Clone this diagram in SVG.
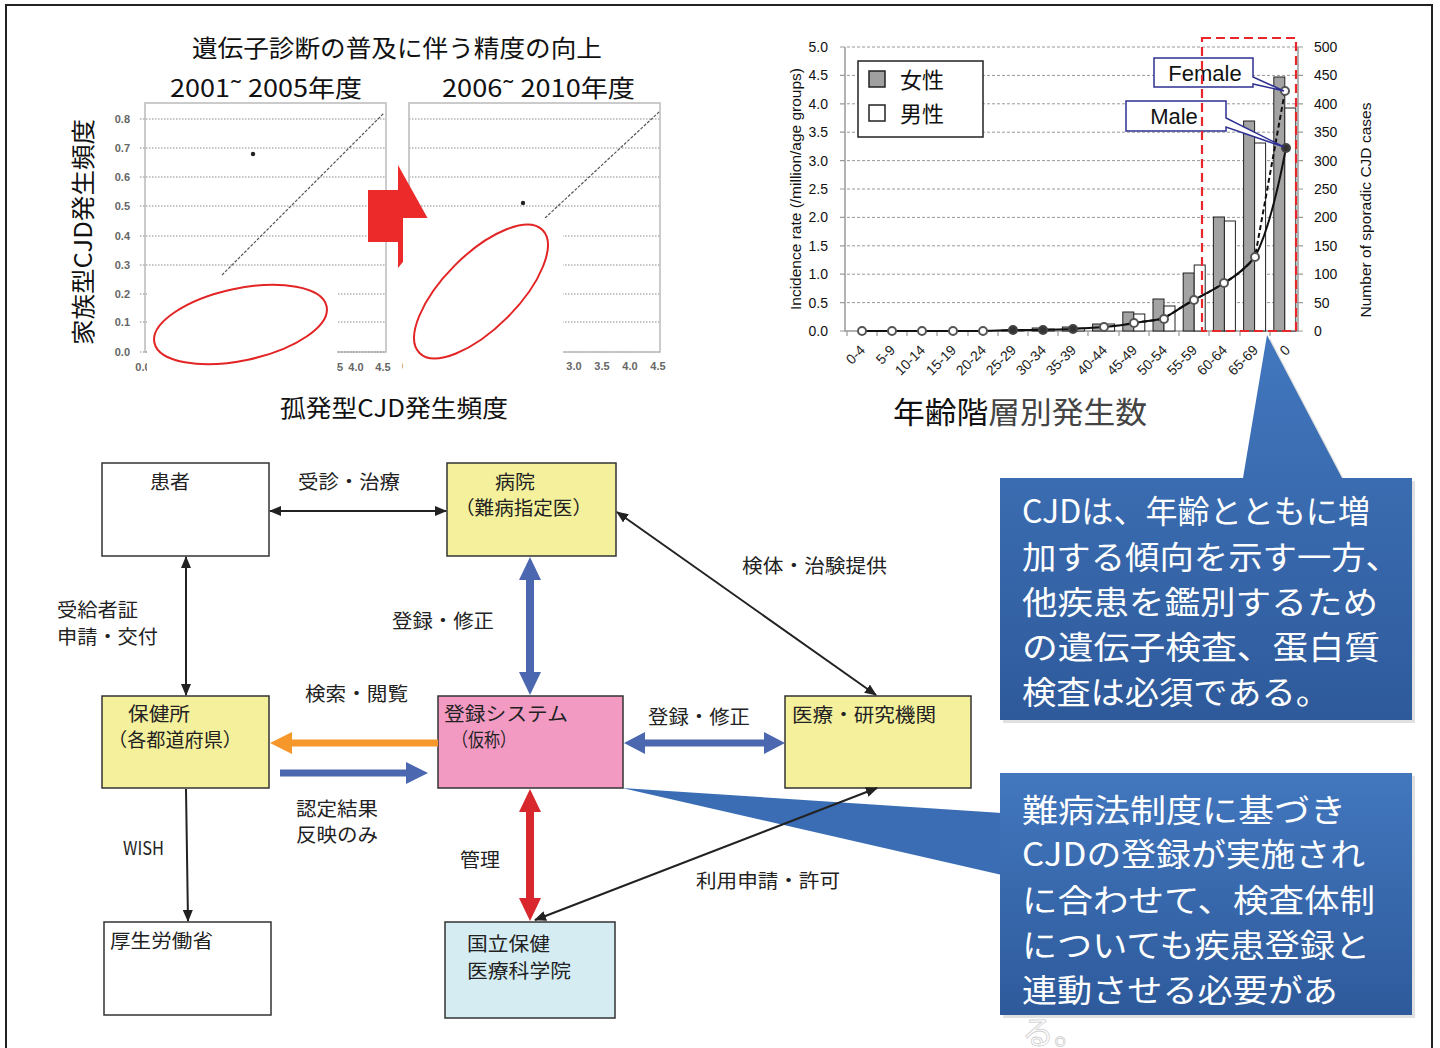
<svg xmlns="http://www.w3.org/2000/svg" width="1440" height="1048" viewBox="0 0 1440 1048">
<style>
.jp{font-family:"Noto Sans CJK JP","Noto Sans",sans-serif;fill:#111}
.lt{font-family:"Liberation Sans",Arial,sans-serif;fill:#111}
.dl{font-family:"Noto Sans CJK JP","Noto Sans",sans-serif;font-size:19px;fill:#222}
.node{stroke:#333;stroke-width:1.5}
.yel{fill:#f4f09c}
.grid{stroke:#8a8a8a;stroke-width:1.2;stroke-dasharray:1.5 1.5;fill:none}
.cgrid{stroke:#999;stroke-width:1;stroke-dasharray:3 2;fill:none}
.sy{font-family:"Liberation Sans",Arial,sans-serif;font-size:11px;font-weight:bold;fill:#666}
.ax{font-family:"Liberation Sans",Arial,sans-serif;font-size:14px;fill:#111}
.xl{font-family:"Liberation Sans",Arial,sans-serif;font-size:14px;fill:#222}
.fb{fill:#a3a3a3;stroke:#222;stroke-width:1}
.mb{fill:#fff;stroke:#222;stroke-width:1}
.mk{fill:#fff;stroke:#555;stroke-width:2}
.mkd{fill:#333;stroke:#444;stroke-width:2}
.ct{font-family:"Noto Sans CJK JP","Noto Sans",sans-serif;font-size:32px;fill:#fff}
.thin{stroke:#222;stroke-width:2;fill:none}
</style>
<defs>
<marker id="ah" viewBox="0 0 12 10" refX="11" refY="5" markerWidth="12" markerHeight="10" markerUnits="userSpaceOnUse" orient="auto-start-reverse">
<path d="M0,0 L12,5 L0,10 Z" fill="#222"/>
</marker>
<linearGradient id="bg" x1="0" y1="0" x2="0" y2="1">
<stop offset="0" stop-color="#4277be"/>
<stop offset="1" stop-color="#2e5a9b"/>
</linearGradient>
</defs>

<!-- page border -->
<rect x="6" y="5" width="1426" height="1070" fill="#fff" stroke="#222" stroke-width="2"/>

<!-- ===== Scatter plots ===== -->
<g id="scatter">
<text class="jp" x="397" y="57" font-size="24" text-anchor="middle" textLength="410" lengthAdjust="spacingAndGlyphs">遺伝子診断の普及に伴う精度の向上</text>
<text class="jp" x="170" y="97" font-size="24" textLength="192" lengthAdjust="spacingAndGlyphs">2001˜ 2005年度</text>
<text class="jp" x="442" y="97" font-size="24" textLength="193" lengthAdjust="spacingAndGlyphs">2006˜ 2010年度</text>
<text class="jp" transform="translate(92,232) rotate(-90)" font-size="24" text-anchor="middle" textLength="226" lengthAdjust="spacingAndGlyphs">家族型CJD発生頻度</text>
<text class="jp" x="394" y="417" font-size="24" text-anchor="middle" textLength="228" lengthAdjust="spacingAndGlyphs">孤発型CJD発生頻度</text>

<!-- left plot -->
<rect x="145" y="103" width="241" height="249" fill="#fff" stroke="#bbb" stroke-width="1.5"/>
<g class="grid">
<path d="M140,119H386M140,148H386M140,177H386M140,206H386M140,236H386M140,265H386M140,294H386M140,322H386M140,352H386"/>
<path d="M409,119H660M409,148H660M409,177H660M409,206H660M409,236H660M409,265H660M409,294H660M409,322H660M409,352H660"/>
</g>
<g>
<text class="sy" x="130" y="123" text-anchor="end">0.8</text>
<text class="sy" x="130" y="152" text-anchor="end">0.7</text>
<text class="sy" x="130" y="181" text-anchor="end">0.6</text>
<text class="sy" x="130" y="210" text-anchor="end">0.5</text>
<text class="sy" x="130" y="240" text-anchor="end">0.4</text>
<text class="sy" x="130" y="269" text-anchor="end">0.3</text>
<text class="sy" x="130" y="298" text-anchor="end">0.2</text>
<text class="sy" x="130" y="326" text-anchor="end">0.1</text>
<text class="sy" x="130" y="356" text-anchor="end">0.0</text>
</g>
<line x1="222" y1="275" x2="384" y2="113" stroke="#555" stroke-width="1.2" stroke-dasharray="3 1.5"/>
<circle cx="253" cy="154" r="2.2" fill="#222"/>
<text class="sy" x="143" y="371" text-anchor="middle">0.0</text>
<text class="sy" x="330" y="371" text-anchor="middle">3.5</text>
<text class="sy" x="356" y="371" text-anchor="middle">4.0</text>
<text class="sy" x="383" y="371" text-anchor="middle">4.5</text>

<!-- right plot -->
<rect x="409" y="103" width="251" height="249" fill="none" stroke="#bbb" stroke-width="1.5"/>
<line x1="545" y1="218" x2="659" y2="112" stroke="#555" stroke-width="1.2" stroke-dasharray="3 1.5"/>
<circle cx="523" cy="203" r="2.2" fill="#222"/>
<text class="sy" x="405" y="370" text-anchor="middle">0</text>
<text class="sy" x="574" y="370" text-anchor="middle">3.0</text>
<text class="sy" x="602" y="370" text-anchor="middle">3.5</text>
<text class="sy" x="630" y="370" text-anchor="middle">4.0</text>
<text class="sy" x="658" y="370" text-anchor="middle">4.5</text>

<!-- red block arrow -->
<polygon points="368,190 398,190 398,165 432,226 398,268 398,242 368,242" fill="#ec2a2a"/>

<!-- white overlays with ellipses -->
<rect x="147" y="280" width="190" height="100" fill="#fff"/>
<rect x="403" y="218" width="160" height="162" fill="#fff"/>
<text class="sy" x="340" y="371" text-anchor="middle">5</text>
<ellipse cx="240.5" cy="324.5" rx="88" ry="36" transform="rotate(-12 240.5 324.5)" fill="none" stroke="#e32424" stroke-width="2"/>
<ellipse cx="481" cy="291.5" rx="87" ry="37" transform="rotate(-45 481 291.5)" fill="none" stroke="#e32424" stroke-width="2"/>
</g>

<!-- ===== Bar / line chart ===== -->
<g id="agechart">
<g class="cgrid">
<path d="M847,47H1298M847,75.4H1298M847,103.8H1298M847,132.2H1298M847,160.6H1298M847,189H1298M847,217.4H1298M847,245.8H1298M847,274.2H1298M847,302.6H1298"/>
</g>
<path d="M845,47V331H1298V47" fill="none" stroke="#999" stroke-width="1.5"/>
<path d="M840,47H845M840,75.4H845M840,103.8H845M840,132.2H845M840,160.6H845M840,189H845M840,217.4H845M840,245.8H845M840,274.2H845M840,302.6H845M840,331H845" stroke="#999" stroke-width="1.2"/>
<path d="M1298,47H1303M1298,75.4H1303M1298,103.8H1303M1298,132.2H1303M1298,160.6H1303M1298,189H1303M1298,217.4H1303M1298,245.8H1303M1298,274.2H1303M1298,302.6H1303M1298,331H1303" stroke="#999" stroke-width="1.2"/>
<path d="M847,331V336M877,331V336M907,331V336M937,331V336M968,331V336M998,331V336M1028,331V336M1058,331V336M1088,331V336M1119,331V336M1149,331V336M1179,331V336M1209,331V336M1240,331V336M1270,331V336" stroke="#999" stroke-width="1.2"/>

<g>
<text class="ax" x="828" y="52" text-anchor="end">5.0</text>
<text class="ax" x="828" y="80.4" text-anchor="end">4.5</text>
<text class="ax" x="828" y="108.8" text-anchor="end">4.0</text>
<text class="ax" x="828" y="137.2" text-anchor="end">3.5</text>
<text class="ax" x="828" y="165.6" text-anchor="end">3.0</text>
<text class="ax" x="828" y="194" text-anchor="end">2.5</text>
<text class="ax" x="828" y="222.4" text-anchor="end">2.0</text>
<text class="ax" x="828" y="250.8" text-anchor="end">1.5</text>
<text class="ax" x="828" y="279.2" text-anchor="end">1.0</text>
<text class="ax" x="828" y="307.6" text-anchor="end">0.5</text>
<text class="ax" x="828" y="336" text-anchor="end">0.0</text>
<text class="ax" x="1314" y="52">500</text>
<text class="ax" x="1314" y="80.4">450</text>
<text class="ax" x="1314" y="108.8">400</text>
<text class="ax" x="1314" y="137.2">350</text>
<text class="ax" x="1314" y="165.6">300</text>
<text class="ax" x="1314" y="194">250</text>
<text class="ax" x="1314" y="222.4">200</text>
<text class="ax" x="1314" y="250.8">150</text>
<text class="ax" x="1314" y="279.2">100</text>
<text class="ax" x="1314" y="307.6">50</text>
<text class="ax" x="1314" y="336">0</text>
</g>
<text class="ax" transform="translate(801,189) rotate(-90)" text-anchor="middle" textLength="242" lengthAdjust="spacingAndGlyphs">Incidence rate (/million/age groups)</text>
<text class="ax" transform="translate(1371,210) rotate(-90)" text-anchor="middle" textLength="215" lengthAdjust="spacingAndGlyphs">Number of sporadic CJD cases</text>

<!-- bars -->
<g>
<rect class="fb" x="1002" y="330" width="11" height="1"/><rect class="mb" x="1013" y="330" width="11" height="1"/>
<rect class="fb" x="1032.2" y="328" width="11" height="3"/><rect class="mb" x="1043.2" y="329" width="11" height="2"/>
<rect class="fb" x="1062.4" y="327" width="11" height="4"/><rect class="mb" x="1073.4" y="328" width="11" height="3"/>
<rect class="fb" x="1092.6" y="324" width="11" height="7"/><rect class="mb" x="1103.6" y="324" width="11" height="7"/>
<rect class="fb" x="1122.8" y="312" width="11" height="19"/><rect class="mb" x="1133.8" y="314" width="11" height="17"/>
<rect class="fb" x="1153" y="299" width="11" height="32"/><rect class="mb" x="1164" y="306" width="11" height="25"/>
<rect class="fb" x="1183.2" y="273" width="11" height="58"/><rect class="mb" x="1194.2" y="265" width="11" height="66"/>
<rect class="fb" x="1213.4" y="217" width="11" height="114"/><rect class="mb" x="1224.4" y="221" width="11" height="110"/>
<rect class="fb" x="1243.6" y="121" width="11" height="210"/><rect class="mb" x="1254.6" y="143" width="11" height="188"/>
<rect class="fb" x="1273.8" y="77" width="11" height="254"/><rect class="mb" x="1284.8" y="108" width="11" height="223"/>
</g>

<!-- lines -->
<path d="M862,331 L983,331 L1013,330 L1043,330 L1073,329 L1104,327 C1115,326 1124,325 1134,323 C1145,321 1155,321 1164,318 C1175,312 1184,305 1194,300 C1205,294 1215,289 1224,283 C1236,276 1246,268 1255,257 C1268,232 1278,190 1286,148" fill="none" stroke="#111" stroke-width="2"/>
<path d="M1134,323 C1145,321 1155,321 1164,318 C1175,312 1184,305 1194,300 C1205,294 1215,289 1224,283 C1236,276 1246,268 1255,257 L1285,91" fill="none" stroke="#111" stroke-width="2" stroke-dasharray="5 3"/>
<g>
<circle class="mk" cx="862" cy="331" r="4"/>
<circle class="mk" cx="892" cy="331" r="4"/>
<circle class="mk" cx="922" cy="331" r="4"/>
<circle class="mk" cx="953" cy="331" r="4"/>
<circle class="mk" cx="983" cy="331" r="4"/>
<circle class="mkd" cx="1013" cy="330" r="4"/>
<circle class="mkd" cx="1043" cy="330" r="4"/>
<circle class="mkd" cx="1073" cy="329" r="4"/>
<circle class="mk" cx="1104" cy="327" r="4"/>
<circle class="mk" cx="1134" cy="323" r="4"/>
<circle class="mk" cx="1164" cy="319" r="4"/>
<circle class="mk" cx="1194" cy="300" r="4"/>
<circle class="mk" cx="1224" cy="283" r="4"/>
<circle class="mk" cx="1255" cy="257" r="4"/>
<circle class="mk" cx="1285" cy="91" r="4"/>
<circle class="mkd" cx="1286" cy="148" r="4"/>
</g>

<!-- x labels -->
<g>
<text class="xl" transform="translate(866,351) rotate(-45)" text-anchor="end">0-4</text>
<text class="xl" transform="translate(896,351) rotate(-45)" text-anchor="end">5-9</text>
<text class="xl" transform="translate(926,351) rotate(-45)" text-anchor="end">10-14</text>
<text class="xl" transform="translate(957,351) rotate(-45)" text-anchor="end">15-19</text>
<text class="xl" transform="translate(987,351) rotate(-45)" text-anchor="end">20-24</text>
<text class="xl" transform="translate(1017,351) rotate(-45)" text-anchor="end" fill="#555">25-29</text>
<text class="xl" transform="translate(1047,351) rotate(-45)" text-anchor="end" fill="#555">30-34</text>
<text class="xl" transform="translate(1077,351) rotate(-45)" text-anchor="end" fill="#555">35-39</text>
<text class="xl" transform="translate(1108,351) rotate(-45)" text-anchor="end" fill="#555">40-44</text>
<text class="xl" transform="translate(1138,351) rotate(-45)" text-anchor="end" fill="#555">45-49</text>
<text class="xl" transform="translate(1168,351) rotate(-45)" text-anchor="end" fill="#555">50-54</text>
<text class="xl" transform="translate(1198,351) rotate(-45)" text-anchor="end" fill="#555">55-59</text>
<text class="xl" transform="translate(1228,351) rotate(-45)" text-anchor="end" fill="#555">60-64</text>
<text class="xl" transform="translate(1259,351) rotate(-45)" text-anchor="end" fill="#555">65-69</text>
<text class="xl" transform="translate(1291,351) rotate(-45)" text-anchor="end" fill="#555">0</text>
</g>
<text class="jp" x="893" y="423" font-size="30" textLength="254" lengthAdjust="spacingAndGlyphs">年齢階<tspan fill="#444">層別発生数</tspan></text>

<!-- legend -->
<rect x="858" y="61" width="125" height="76" fill="#fff" stroke="#222" stroke-width="1.5"/>
<rect x="869" y="71" width="16" height="16" fill="#a0a0a0" stroke="#222" stroke-width="1.5"/>
<rect x="869" y="105" width="16" height="16" fill="#fff" stroke="#222" stroke-width="1.5"/>
<text class="jp" x="900" y="88" font-size="22">女性</text>
<text class="jp" x="900" y="122" font-size="22">男性</text>

<!-- Female / Male callouts -->
<path d="M1154,58 H1253 V77 L1284,91 L1253,84 V87 H1154 Z" fill="#fff" stroke="#2e3192" stroke-width="1.5"/>
<text class="lt" x="1205" y="81" font-size="22" text-anchor="middle">Female</text>
<path d="M1126,101 H1226 V118 L1284,147 L1226,127 V131 H1126 Z" fill="#fff" stroke="#2e3192" stroke-width="1.5"/>
<text class="lt" x="1174" y="124" font-size="22" text-anchor="middle">Male</text>

<rect x="1202" y="38" width="94" height="293" fill="none" stroke="#e8272a" stroke-width="2.2" stroke-dasharray="9 5"/>
</g>

<!-- ===== Callouts ===== -->
<g id="callout1">
<path d="M1003,481 H1246 L1270,338 L1345,481 H1415 V723 H1003 Z" fill="#000" opacity="0.12"/>
<path d="M1000,478 H1243 L1267,335 L1342,478 H1412 V720 H1000 Z" fill="url(#bg)"/>
<text class="ct" x="1022" y="523" textLength="348" lengthAdjust="spacingAndGlyphs">CJDは、年齢とともに増</text>
<text class="ct" x="1022" y="569" textLength="378" lengthAdjust="spacingAndGlyphs">加する傾向を示す一方、</text>
<text class="ct" x="1022" y="614" textLength="356" lengthAdjust="spacingAndGlyphs">他疾患を鑑別するため</text>
<text class="ct" x="1022" y="659" textLength="358" lengthAdjust="spacingAndGlyphs">の遺伝子検査、蛋白質</text>
<text class="ct" x="1022" y="704" textLength="308" lengthAdjust="spacingAndGlyphs">検査は必須である。</text>
</g>

<g id="callout2">
<rect x="1003" y="776" width="412" height="242" fill="#000" opacity="0.12"/>
<polygon points="622,788 1002,813 1002,875" fill="#3a6db4"/>
<rect x="1000" y="773" width="412" height="242" fill="url(#bg)"/>
<text class="ct" x="1022" y="822" textLength="324" lengthAdjust="spacingAndGlyphs">難病法制度に基づき</text>
<text class="ct" x="1022" y="866" textLength="343" lengthAdjust="spacingAndGlyphs">CJDの登録が実施され</text>
<text class="ct" x="1022" y="912" textLength="353" lengthAdjust="spacingAndGlyphs">に合わせて、検査体制</text>
<text class="ct" x="1022" y="957" textLength="348" lengthAdjust="spacingAndGlyphs">についても疾患登録と</text>
<text class="ct" x="1022" y="1002" textLength="316" lengthAdjust="spacingAndGlyphs">連動させる必要があ</text>
<text class="ct" x="1022" y="1044" stroke="#cfcfcf" stroke-width="0.8">る。</text>
</g>

<!-- ===== Flow diagram nodes ===== -->
<g id="n-patient">
<rect class="node" x="102" y="463" width="167" height="93" fill="#fff"/>
<text class="dl" x="150" y="489" textLength="40" lengthAdjust="spacingAndGlyphs">患者</text>
</g>
<g id="n-hospital">
<rect class="node yel" x="447" y="463" width="169" height="93"/>
<text class="dl" x="495" y="489" textLength="40" lengthAdjust="spacingAndGlyphs">病院</text>
<text class="dl" x="455" y="515" textLength="137" lengthAdjust="spacingAndGlyphs">（難病指定医）</text>
</g>
<g id="n-hokenjo">
<rect class="node yel" x="102" y="696" width="167" height="92"/>
<text class="dl" x="128" y="721" textLength="62" lengthAdjust="spacingAndGlyphs">保健所</text>
<text class="dl" x="108" y="747" textLength="134" lengthAdjust="spacingAndGlyphs">（各都道府県）</text>
</g>
<g id="n-system">
<rect class="node" x="438" y="696" width="185" height="92" fill="#f29ac2"/>
<text class="dl" x="444" y="721" textLength="124" lengthAdjust="spacingAndGlyphs">登録システム</text>
<text class="dl" x="452" y="747" textLength="64" lengthAdjust="spacingAndGlyphs">（仮称）</text>
</g>
<g id="n-research">
<rect class="node yel" x="785" y="696" width="186" height="92"/>
<text class="dl" x="792" y="722" textLength="144" lengthAdjust="spacingAndGlyphs">医療・研究機関</text>
</g>
<g id="n-mhlw">
<rect class="node" x="104" y="922" width="167" height="93" fill="#fff"/>
<text class="dl" x="110" y="948" textLength="103" lengthAdjust="spacingAndGlyphs">厚生労働省</text>
</g>
<g id="n-niph">
<rect class="node" x="445" y="922" width="170" height="96" fill="#d5edf2"/>
<text class="dl" x="467" y="951" textLength="83" lengthAdjust="spacingAndGlyphs">国立保健</text>
<text class="dl" x="467" y="978" textLength="104" lengthAdjust="spacingAndGlyphs">医療科学院</text>
</g>

<!-- ===== Connectors ===== -->
<g id="connectors">
<line class="thin" x1="270" y1="511" x2="446" y2="511" marker-start="url(#ah)" marker-end="url(#ah)"/>
<line class="thin" x1="186" y1="557" x2="186" y2="695" marker-start="url(#ah)" marker-end="url(#ah)"/>
<line class="thin" x1="617" y1="512" x2="876" y2="695" marker-start="url(#ah)" marker-end="url(#ah)"/>
<line class="thin" x1="186" y1="789" x2="188" y2="921" marker-end="url(#ah)"/>
<line class="thin" x1="535" y1="920" x2="877" y2="788" marker-start="url(#ah)" marker-end="url(#ah)"/>
<polygon points="530,557 541,580 534,580 534,672 541,672 530,695 519,672 526,672 526,580 519,580" fill="#4a67b0"/>
<polygon points="530,789 541,812 534,812 534,898 541,898 530,921 519,898 526,898 526,812 519,812" fill="#d9282d"/>
<polygon points="270,743 292,732 292,739.5 438,739.5 438,746.5 292,746.5 292,754" fill="#f5972b"/>
<polygon points="280,769.5 406,769.5 406,762 428,773 406,784 406,776.5 280,776.5" fill="#4a67b0"/>
<polygon points="624,743 645,732 645,739.5 764,739.5 764,732 785,743 764,754 764,746.5 645,746.5 645,754" fill="#4a67b0"/>

<text class="dl" x="298" y="489" textLength="102" lengthAdjust="spacingAndGlyphs">受診・治療</text>
<text class="dl" x="57" y="617" textLength="81" lengthAdjust="spacingAndGlyphs">受給者証</text>
<text class="dl" x="57" y="644" textLength="101" lengthAdjust="spacingAndGlyphs">申請・交付</text>
<text class="dl" x="392" y="628" textLength="102" lengthAdjust="spacingAndGlyphs">登録・修正</text>
<text class="dl" x="742" y="573" textLength="145" lengthAdjust="spacingAndGlyphs">検体・治験提供</text>
<text class="dl" x="305" y="701" textLength="103" lengthAdjust="spacingAndGlyphs">検索・閲覧</text>
<text class="dl" x="648" y="724" textLength="102" lengthAdjust="spacingAndGlyphs">登録・修正</text>
<text class="dl" x="296" y="816" textLength="82" lengthAdjust="spacingAndGlyphs">認定結果</text>
<text class="dl" x="296" y="842" textLength="82" lengthAdjust="spacingAndGlyphs">反映のみ</text>
<text class="dl" x="123" y="855" textLength="41" lengthAdjust="spacingAndGlyphs">WISH</text>
<text class="dl" x="460" y="867" textLength="40" lengthAdjust="spacingAndGlyphs">管理</text>
<text class="dl" x="696" y="888" textLength="144" lengthAdjust="spacingAndGlyphs">利用申請・許可</text>
</g>
</svg>
